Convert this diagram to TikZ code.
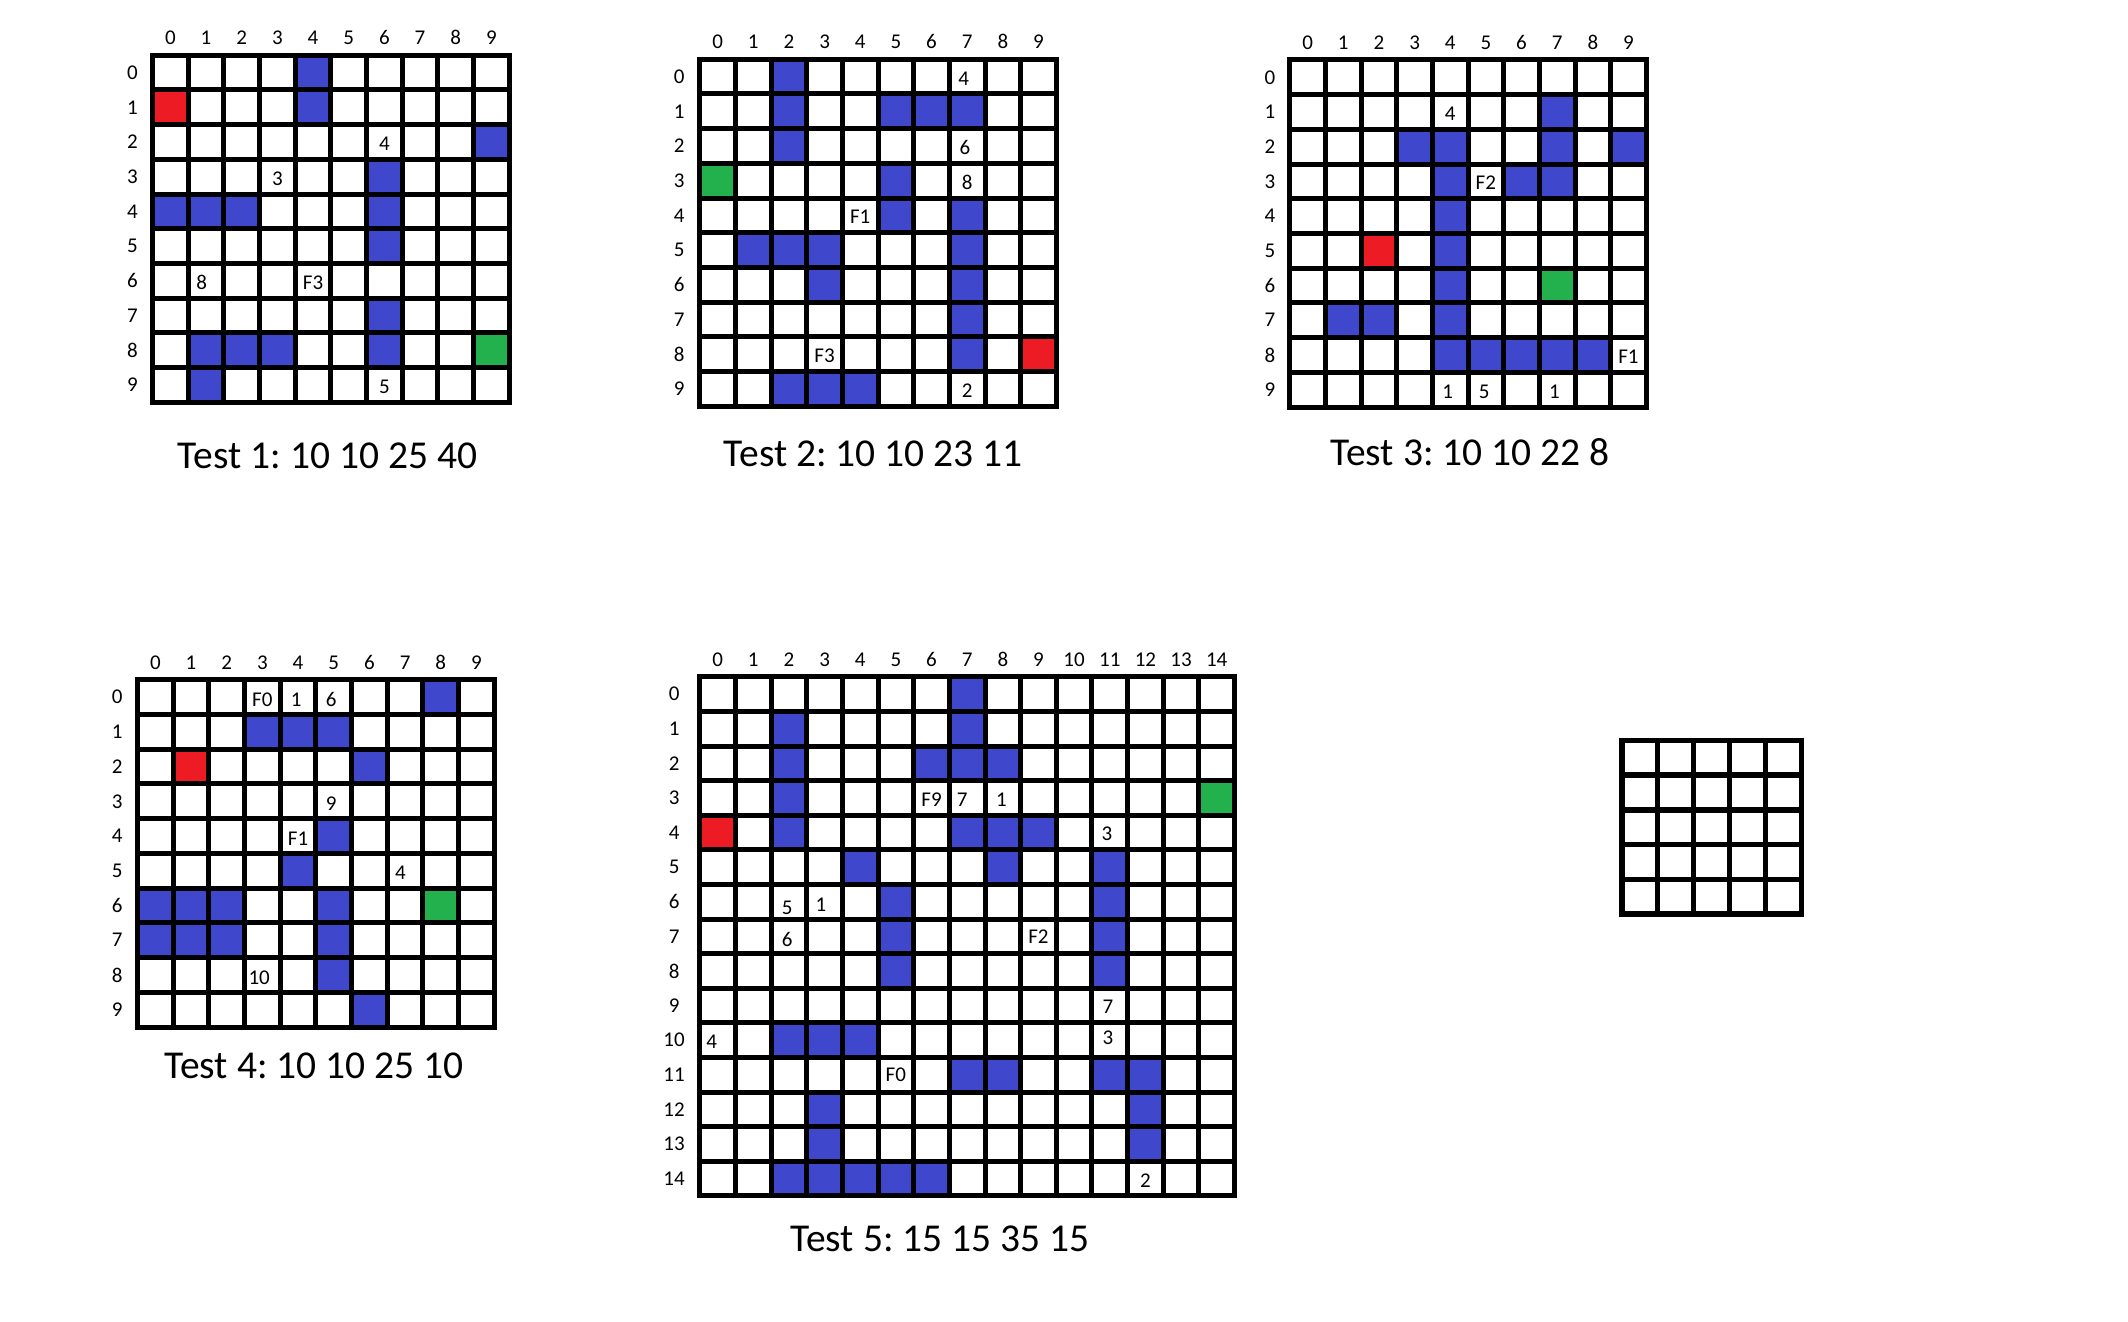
\documentclass[tikz,border=0pt]{standalone}
\usepackage{fontspec}
\setmainfont{Carlito}
\frenchspacing
\definecolor{bluec}{HTML}{3F48CC}
\definecolor{redc}{HTML}{ED1C24}
\definecolor{greenc}{HTML}{22B14C}
\tikzset{
  gridline/.style={line width=5pt, black, line join=miter},
  lab/.style={font=\fontsize{21}{25}\selectfont, inner sep=0pt},
  celltext/.style={font=\fontsize{21}{25}\selectfont, inner sep=0pt},
  titletext/.style={font=\fontsize{39.5}{47}\selectfont, inner sep=0pt},
}
\newcommand{\gridlinesN}[1]{%
  \foreach \k in {0,...,#1}{%
    \draw[gridline] (\k,0) -- (\k,#1);
    \draw[gridline] (0,\k) -- (#1,\k);
  }
  \draw[gridline] (0,0) rectangle (#1,#1);
}
\newcommand{\axislabels}[3]{%
  \foreach \k in {0,...,#2}{%
    \node[lab] (#1col\k) at (\k+0.5,-0.5) {\k};
    \node[lab] (#1row\k) at (#3,\k+0.5) {\k};
  }
}
\begin{document}
\begin{tikzpicture}
\useasboundingbox[fill=white] (0,0) rectangle (2128pt,-1322pt);

% ---------- Grid 1 ----------
\begin{scope}[shift={(152.5pt,-55.2pt)}, x=35.67pt, y=-34.7pt]
  \foreach \cc/\rr in {4/0,4/1,9/2,6/3,0/4,1/4,2/4,6/4,6/5,6/7,1/8,2/8,3/8,6/8,1/9}
    \fill[bluec] (\cc,\rr) rectangle ++(1,1);
  \fill[redc] (0,1) rectangle ++(1,1);
  \fill[greenc] (9,8) rectangle ++(1,1);
  \gridlinesN{10}
  \axislabels{ga}{9}{-0.56}
  \foreach \cc/\rr/\txt/\ox [count=\q] in {6/2/4/0, 3/3/3/0, 1/6/8/-0.12, 4/6/F3/0, 6/9/5/0}
    \node[celltext] (gatxt\q) at (\cc+0.5+\ox,\rr+0.55) {\txt};
\end{scope}
\node[titletext] (title1) at (327.5pt,-456.3pt) {Test 1: 10 10 25 40};

% ---------- Grid 2 ----------
\begin{scope}[shift={(699.8pt,-59.2pt)}, x=35.65pt, y=-34.7pt]
  \foreach \cc/\rr in {2/0,2/1,5/1,6/1,7/1,2/2,5/3,5/4,7/4,1/5,2/5,3/5,7/5,3/6,7/6,7/7,7/8,2/9,3/9,4/9}
    \fill[bluec] (\cc,\rr) rectangle ++(1,1);
  \fill[greenc] (0,3) rectangle ++(1,1);
  \fill[redc] (9,8) rectangle ++(1,1);
  \gridlinesN{10}
  \axislabels{gb}{9}{-0.575}
  \foreach \cc/\rr/\txt/\ox [count=\q] in {7/0/4/-0.1, 7/2/6/-0.06, 7/3/8/0, 4/4/F1/0, 3/8/F3/0, 7/9/2/0}
    \node[celltext] (gbtxt\q) at (\cc+0.5+\ox,\rr+0.55) {\txt};
\end{scope}
\node[titletext] (title2) at (873.3pt,-454pt) {Test 2: 10 10 23 11};

% ---------- Grid 3 ----------
\begin{scope}[shift={(1289.8pt,-60pt)}, x=35.65pt, y=-34.7pt]
  \foreach \cc/\rr in {7/1,3/2,4/2,7/2,9/2,4/3,6/3,7/3,4/4,4/5,4/6,1/7,2/7,4/7,4/8,5/8,6/8,7/8,8/8}
    \fill[bluec] (\cc,\rr) rectangle ++(1,1);
  \fill[redc] (2,5) rectangle ++(1,1);
  \fill[greenc] (7,6) rectangle ++(1,1);
  \gridlinesN{10}
  \axislabels{gc}{9}{-0.555}
  \foreach \cc/\rr/\txt/\ox [count=\q] in {4/1/4/0, 5/3/F2/0, 9/8/F1/0, 4/9/1/-0.07, 5/9/5/-0.05, 7/9/1/-0.08}
    \node[celltext] (gctxt\q) at (\cc+0.5+\ox,\rr+0.55) {\txt};
\end{scope}
\node[titletext] (title3) at (1470pt,-452.5pt) {Test 3: 10 10 22 8};

% ---------- Grid 4 ----------
\begin{scope}[shift={(137.5pt,-679.8pt)}, x=35.68pt, y=-34.72pt]
  \foreach \cc/\rr in {8/0,3/1,4/1,5/1,6/2,5/4,4/5,0/6,1/6,2/6,5/6,0/7,1/7,2/7,5/7,5/8,6/9}
    \fill[bluec] (\cc,\rr) rectangle ++(1,1);
  \fill[redc] (1,2) rectangle ++(1,1);
  \fill[greenc] (8,6) rectangle ++(1,1);
  \gridlinesN{10}
  \axislabels{gd}{9}{-0.566}
  \foreach \cc/\rr/\txt/\ox [count=\q] in {3/0/F0/0, 4/0/1/-0.05, 5/0/6/-0.07, 5/3/9/-0.07, 4/4/F1/0, 7/5/4/-0.13, 3/8/10/-0.09}
    \node[celltext] (gdtxt\q) at (\cc+0.5+\ox,\rr+0.57) {\txt};
\end{scope}
\node[titletext] (title4) at (314pt,-1066pt) {Test 4: 10 10 25 10};

% ---------- Grid 5 ----------
\begin{scope}[shift={(699.8pt,-676.8pt)}, x=35.65pt, y=-34.6pt]
  \foreach \cc/\rr in {7/0,2/1,7/1,2/2,6/2,7/2,8/2,2/3,2/4,7/4,8/4,9/4,4/5,8/5,11/5,5/6,11/6,5/7,11/7,5/8,11/8,2/10,3/10,4/10,7/11,8/11,11/11,12/11,3/12,12/12,3/13,12/13,2/14,3/14,4/14,5/14,6/14}
    \fill[bluec] (\cc,\rr) rectangle ++(1,1);
  \fill[redc] (0,4) rectangle ++(1,1);
  \fill[greenc] (14,3) rectangle ++(1,1);
  \gridlinesN{15}
  \axislabels{ge}{14}{-0.72}
  \foreach \cc/\rr/\txt/\ox/\oy [count=\q] in {6/3/F9/0/0.55, 7/3/7/-0.14/0.55, 8/3/1/-0.04/0.55, 11/4/3/-0.08/0.55, 2/6/5/-0.05/0.68, 3/6/1/-0.1/0.6, 2/7/6/-0.05/0.6, 9/7/F2/0/0.5, 11/9/7/-0.05/0.55, 0/10/4/-0.17/0.55, 11/10/3/-0.05/0.42, 5/11/F0/0/0.5, 12/14/2/0/0.55}
    \node[celltext] (getxt\q) at (\cc+0.5+\ox,\rr+\oy) {\txt};
\end{scope}
\node[titletext] (title5) at (940pt,-1239pt) {Test 5: 15 15 35 15};

% ---------- Grid 6 (empty 5x5) ----------
\begin{scope}[shift={(1621.8pt,-740.5pt)}, x=35.9pt, y=-34.7pt, gridline/.append style={line width=5.5pt}]
  \gridlinesN{5}
\end{scope}
\end{tikzpicture}
\end{document}
